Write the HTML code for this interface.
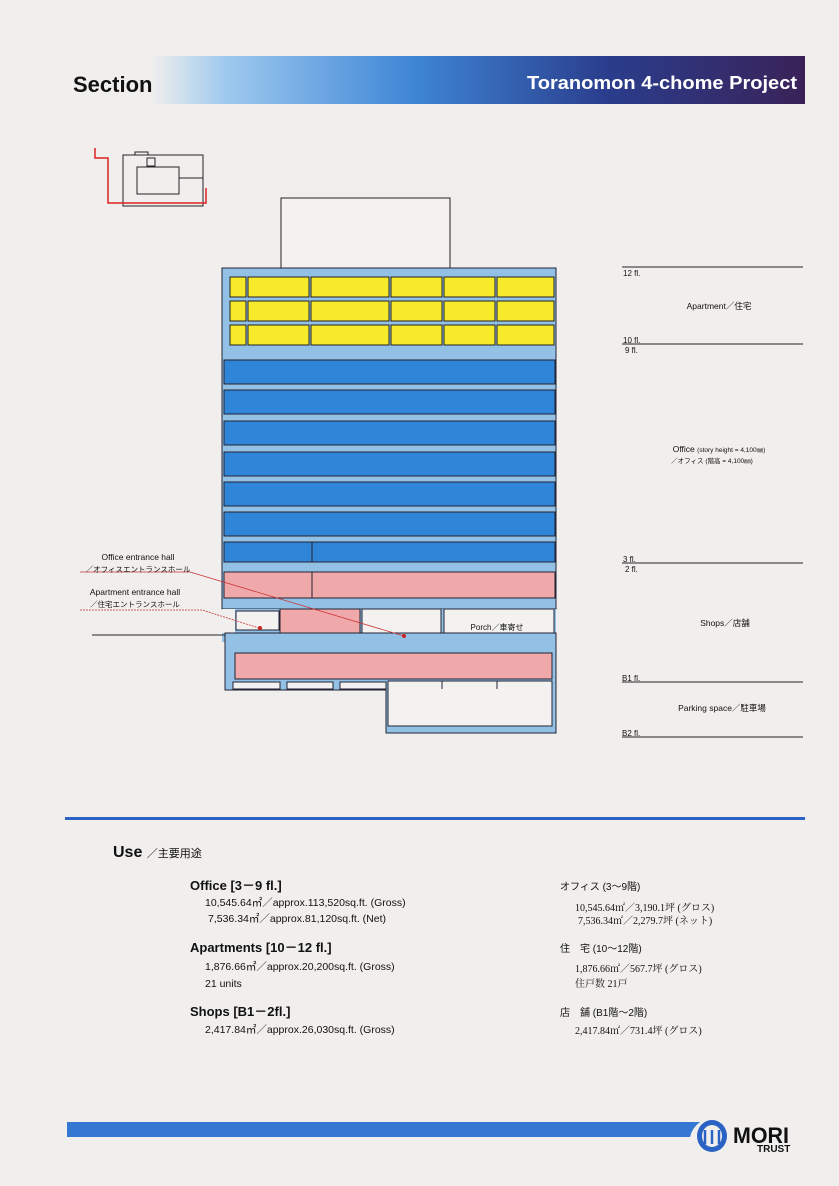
<!DOCTYPE html>
<html><head><meta charset="utf-8"><style>
html,body{margin:0;padding:0;background:#f1efed}
svg{display:block}
text{font-family:"Liberation Sans","Noto Sans CJK JP",sans-serif;fill:#111}
</style></head><body>
<svg width="839" height="1186" viewBox="0 0 839 1186" xmlns="http://www.w3.org/2000/svg">
<defs>
<linearGradient id="hg" x1="0" x2="1" y1="0" y2="0">
<stop offset="0" stop-color="#f1efed"/>
<stop offset="0.12" stop-color="#9cc8ee"/>
<stop offset="0.4" stop-color="#3f86d6"/>
<stop offset="0.7" stop-color="#2a3d8c"/>
<stop offset="1" stop-color="#3a2258"/>
</linearGradient>
</defs>
<rect width="839" height="1186" fill="#f1efed"/>
<!-- header -->
<rect x="150" y="56" width="655" height="48" fill="url(#hg)"/>
<text x="73" y="92" font-size="22" font-weight="bold" fill="#222">Section</text>
<text x="797" y="89" font-size="18" font-weight="bold" fill="#fff" style="fill:#fff" text-anchor="end" textLength="270" lengthAdjust="spacingAndGlyphs">Toranomon 4-chome Project</text>
<!-- key map -->
<g fill="none" stroke="#222" stroke-width="1">
<rect x="123" y="155" width="80" height="51"/>
<rect x="137" y="167" width="42" height="27"/>
<rect x="147" y="158" width="8" height="8"/>
<path d="M135 155 v-3 h13 v3"/>
<path d="M179 178 h24"/>
</g>
<path d="M95 148 v10 h13 v45 h98 v-15" fill="none" stroke="#d22" stroke-width="1.5"/>
<!-- building -->
<rect x="281" y="198" width="169" height="72" fill="#f4f2f0" stroke="#222"/>
<path d="M222 268 H556 V609 H222 Z" fill="#93c1e6" stroke="#223" stroke-width="1"/>
<g fill="#f6ea2a" stroke="#222" stroke-width="1">
<rect x="230" y="277" width="16" height="20"/><rect x="248" y="277" width="61" height="20"/><rect x="311" y="277" width="78" height="20"/><rect x="391" y="277" width="51" height="20"/><rect x="444" y="277" width="51" height="20"/><rect x="497" y="277" width="57" height="20"/>
<rect x="230" y="301" width="16" height="20"/><rect x="248" y="301" width="61" height="20"/><rect x="311" y="301" width="78" height="20"/><rect x="391" y="301" width="51" height="20"/><rect x="444" y="301" width="51" height="20"/><rect x="497" y="301" width="57" height="20"/>
<rect x="230" y="325" width="16" height="20"/><rect x="248" y="325" width="61" height="20"/><rect x="311" y="325" width="78" height="20"/><rect x="391" y="325" width="51" height="20"/><rect x="444" y="325" width="51" height="20"/><rect x="497" y="325" width="57" height="20"/>
</g>
<g fill="#2f85d8" stroke="#223" stroke-width="1">
<rect x="224" y="360" width="331" height="24"/>
<rect x="224" y="390" width="331" height="24"/>
<rect x="224" y="421" width="331" height="24"/>
<rect x="224" y="452" width="331" height="24"/>
<rect x="224" y="482" width="331" height="24"/>
<rect x="224" y="512" width="331" height="24"/>
<rect x="224" y="542" width="88" height="20"/><rect x="312" y="542" width="243" height="20"/>
</g>
<g fill="#f0a9aa" stroke="#223" stroke-width="1">
<rect x="224" y="572" width="88" height="26"/><rect x="312" y="572" width="243" height="26"/>
</g>
<!-- ground -->
<path d="M222 609 H556 V642 H222 Z" fill="#93c1e6"/>
<rect x="236" y="611" width="43" height="19" fill="#f4f2f0" stroke="#223"/>
<rect x="222" y="609" width="13" height="24" fill="#f1efed"/>
<rect x="280" y="609" width="80" height="32" fill="#f0a9aa" stroke="#223"/>
<rect x="362" y="609" width="79" height="32" fill="#f4f2f0" stroke="#223"/>
<rect x="444" y="609" width="110" height="32" fill="#f4f2f0" stroke="#223"/>
<text x="497" y="630" font-size="8" text-anchor="middle">Porch／車寄せ</text>
<!-- basement -->
<path d="M225 633 H556 V733 H386 V690 H225 Z" fill="#93c1e6" stroke="#223"/>
<rect x="235" y="653" width="317" height="26" fill="#f0a9aa" stroke="#223"/>
<g fill="#f4f2f0" stroke="#223">
<rect x="233" y="682" width="47" height="7"/><rect x="287" y="682" width="46" height="7"/><rect x="340" y="682" width="46" height="7"/>
<rect x="388" y="681" width="164" height="45"/>
</g>
<path d="M442 681 v8 M497 681 v8" stroke="#223"/>
<line x1="92" y1="635" x2="225" y2="635" stroke="#222"/>
<!-- leader lines -->
<path d="M80 572 H190 L404 636" fill="none" stroke="#c33" stroke-width="0.8"/>
<circle cx="404" cy="636" r="2" fill="#c22"/>
<path d="M80 610 H202 L259 628" fill="none" stroke="#c33" stroke-width="0.8" stroke-dasharray="2 1"/>
<circle cx="260" cy="628" r="2" fill="#c22"/>
<text x="138" y="560" font-size="8.5" text-anchor="middle">Office entrance hall</text>
<text x="138" y="572" font-size="7.5" text-anchor="middle">／オフィスエントランスホール</text>
<text x="135" y="595" font-size="8.5" text-anchor="middle">Apartment entrance hall</text>
<text x="135" y="607" font-size="7.5" text-anchor="middle">／住宅エントランスホール</text>
<!-- right labels -->
<g stroke="#222" stroke-width="1">
<line x1="622" y1="267" x2="803" y2="267"/><line x1="622" y1="344" x2="803" y2="344"/>
<line x1="622" y1="563" x2="803" y2="563"/><line x1="622" y1="682" x2="803" y2="682"/><line x1="622" y1="737" x2="803" y2="737"/>
</g>
<g font-size="8">
<text x="623" y="276">12 fl.</text>
<text x="623" y="343">10 fl.</text><text x="625" y="353">9 fl.</text>
<text x="623" y="562">3 fl.</text><text x="625" y="572">2 fl.</text>
<text x="622" y="681">B1 fl.</text><text x="622" y="736">B2 fl.</text>
</g>
<g font-size="8.5" text-anchor="middle">
<text x="719" y="309">Apartment／住宅</text>
<text x="719" y="452">Office <tspan font-size="6.5">(story height = 4,100㎜)</tspan></text>
<text x="712" y="463" font-size="6.5">／オフィス (階高 = 4,100㎜)</text>
<text x="725" y="626">Shops／店舗</text>
<text x="722" y="711">Parking space／駐車場</text>
</g>
<!-- divider -->
<rect x="65" y="817" width="740" height="3" fill="#2b62c4"/>
<!-- use section -->
<text x="113" y="857" font-size="16" font-weight="bold">Use <tspan font-size="11" font-weight="normal">／主要用途</tspan></text>
<g font-size="10.5">
<text x="190" y="890" font-size="13" font-weight="bold">Office [3－9 fl.]</text>
<text x="205" y="906">10,545.64㎡／approx.113,520sq.ft. (Gross)</text>
<text x="208" y="922">7,536.34㎡／approx.81,120sq.ft. (Net)</text>
<text x="190" y="952" font-size="13" font-weight="bold">Apartments [10－12 fl.]</text>
<text x="205" y="970">1,876.66㎡／approx.20,200sq.ft. (Gross)</text>
<text x="205" y="987">21 units</text>
<text x="190" y="1016" font-size="13" font-weight="bold">Shops [B1－2fl.]</text>
<text x="205" y="1033">2,417.84㎡／approx.26,030sq.ft. (Gross)</text>
</g>
<g font-size="10">
<text x="560" y="890">オフィス (3～9階)</text>
<text x="575" y="911" style="font-family:'Liberation Serif','Noto Serif CJK SC',serif">10,545.64㎡／3,190.1坪 (グロス)</text>
<text x="578" y="924" style="font-family:'Liberation Serif','Noto Serif CJK SC',serif">7,536.34㎡／2,279.7坪 (ネット)</text>
<text x="560" y="952">住　宅 (10～12階)</text>
<text x="575" y="972" style="font-family:'Liberation Serif','Noto Serif CJK SC',serif">1,876.66㎡／567.7坪 (グロス)</text>
<text x="575" y="987" style="font-family:'Liberation Serif','Noto Serif CJK SC',serif">住戸数 21戸</text>
<text x="560" y="1016">店　舗 (B1階～2階)</text>
<text x="575" y="1034" style="font-family:'Liberation Serif','Noto Serif CJK SC',serif">2,417.84㎡／731.4坪 (グロス)</text>
</g>
<!-- footer -->
<path d="M67 1122 H700 Q692 1128 690 1137 H67 Z" fill="#3578d4"/>
<ellipse cx="712" cy="1136" rx="15" ry="16" fill="#2a63c4"/>
<ellipse cx="712" cy="1136" rx="10" ry="11" fill="#f1efed"/>
<path d="M705 1130 v14 M712 1130 v14 M719 1130 v14" stroke="#2a63c4" stroke-width="2.5"/>
<text x="733" y="1143" font-size="22" font-weight="bold" fill="#222" textLength="56" lengthAdjust="spacingAndGlyphs">MORI</text>
<text x="757" y="1152" font-size="10" font-weight="bold" fill="#222">TRUST</text>
</svg>
</body></html>
